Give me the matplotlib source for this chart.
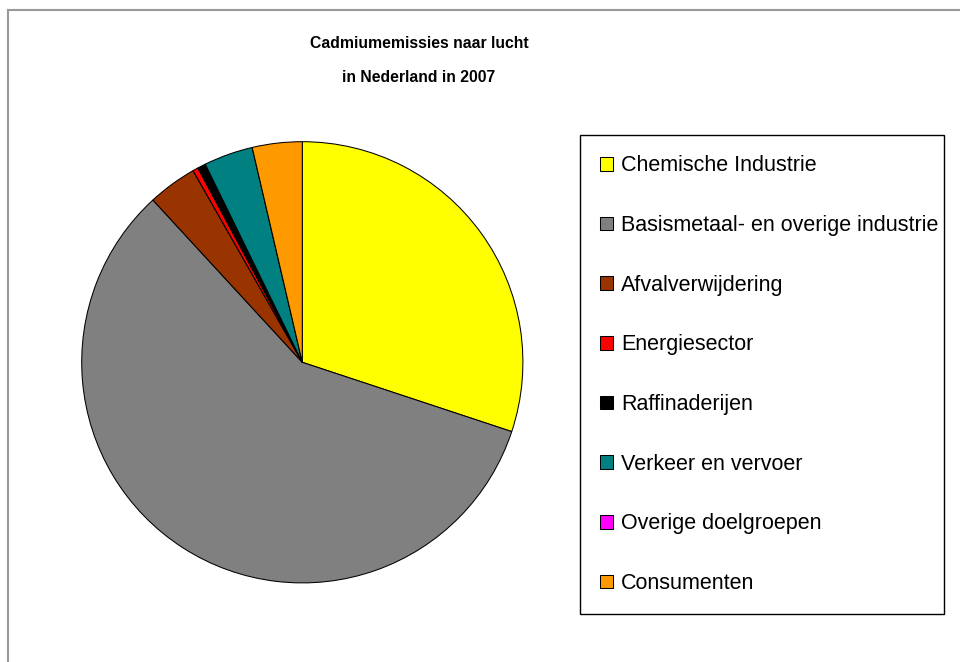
import matplotlib
matplotlib.use("Agg")
from matplotlib import pyplot as plt
from matplotlib.lines import Line2D

plt.rcParams['font.family'] = ['Liberation Sans', 'DejaVu Sans']

# Cadmium emissions to air, shares in percent
labels = ['Chemische Industrie', 'Basismetaal- en overige industrie',
          'Afvalverwijdering', 'Energiesector', 'Raffinaderijen',
          'Verkeer en vervoer', 'Overige doelgroepen', 'Consumenten']
shares = [30.1, 58.1, 3.6, 0.4, 0.6, 3.6, 0.0, 3.65]
colors = ['#FFFF00', '#808080', '#993300', '#FF0000', '#000000',
          '#008080', '#FF00FF', '#FF9900']

W, H = 960, 662
fig = plt.figure(figsize=(W / 100, H / 100), dpi=100)

# pie placed so that center ~ (302, 362) px, radius ~ 221 px
cx, cy, r = 302.3, 362.3, 220.6
ax = fig.add_axes([(cx - r) / W, (H - cy - r) / H, 2 * r / W, 2 * r / H])
wedges, texts = ax.pie(shares, colors=colors, startangle=90, counterclock=False,
                       radius=1.0,
                       wedgeprops={'edgecolor': 'black', 'linewidth': 0.75})
ax.set_xlim(-1.0, 1.0)
ax.set_ylim(-1.0, 1.0)
ax.axis('off')

# outer chart-area border (cropped on the right and bottom)
fig.add_artist(Line2D([8 / W, 1.0], [1 - 9.5 / H, 1 - 9.5 / H],
                      color='#999999', lw=1.5, transform=fig.transFigure))
fig.add_artist(Line2D([8 / W, 8 / W], [0.0, 1 - 9.5 / H],
                      color='#999999', lw=1.5, transform=fig.transFigure))

fig.text(419 / W, 1 - 43 / H, 'Cadmiumemissies naar lucht', ha='center',
         va='center', fontsize=11.3, fontweight='bold')
fig.text(419 / W, 1 - 78 / H, 'in Nederland in 2007', ha='center',
         va='center', fontsize=11.3, fontweight='bold')

# legend box roughly x 580..944, y 135..616 px
lx0, lx1, ly0, ly1 = 580, 944, 135, 616
leg = fig.legend(wedges, labels, loc='upper left',
                 bbox_to_anchor=(lx0 / W, 1 - ly1 / H, (lx1 - lx0) / W, (ly1 - ly0) / H),
                 mode='expand', fontsize=15.5, frameon=True, fancybox=False,
                 edgecolor='black', framealpha=1, handlelength=0.6,
                 handleheight=0.6, handletextpad=0.36, labelspacing=1.795,
                 borderpad=0.95, borderaxespad=0.0)
leg.get_frame().set_linewidth(1.0)

fig.savefig('out.png', dpi=100, facecolor='white')
